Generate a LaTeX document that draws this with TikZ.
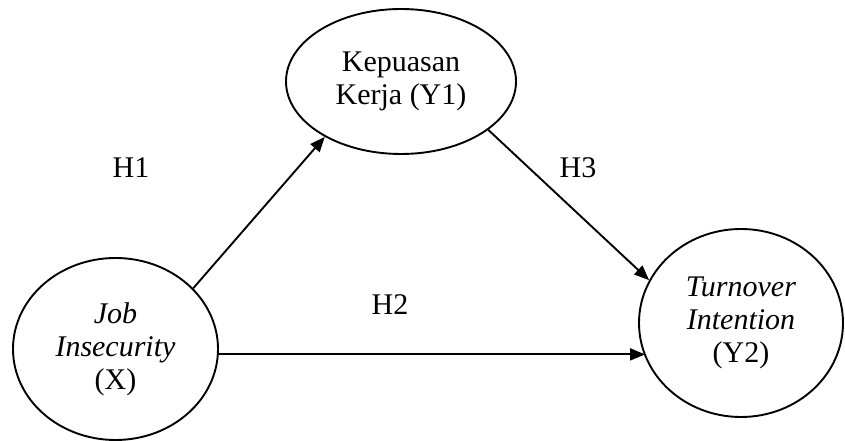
\documentclass[tikz,border=0pt]{standalone}
\usepackage{fontspec}
\setmainfont{Liberation Serif}
\usetikzlibrary{shapes.geometric,arrows.meta}
\begin{document}
\begin{tikzpicture}[x=1pt,y=1pt,
  var/.style={draw,ellipse,line width=1.9pt,inner sep=0pt,align=center,font=\fontsize{30}{33}\selectfont},
  conn/.style={line width=1.9pt,-{Triangle[length=15pt,width=12pt]}},
  hyp/.style={font=\fontsize{30}{33}\selectfont,inner sep=0pt}]
\useasboundingbox (0,0) rectangle (845,441);
\node[var,minimum width=230pt,minimum height=145pt] (Y1) at (401,359.5) {Kepuasan\\Kerja (Y1)};
\node[var,minimum width=205pt,minimum height=182pt] (X) at (115.5,92) {\textit{Job}\\\textit{Insecurity}\\(X)};
\node[var,minimum width=204pt,minimum height=188pt] (Y2) at (741,118) {\textit{Turnover}\\\textit{Intention}\\(Y2)};
\coordinate (hs) at (X.-3.9);
\coordinate (he) at ([xshift=7pt]hs -| Y2.west);
\draw[conn] (X.38.4) -- (Y1.216);
\draw[conn] (Y1.-29.5) -- (Y2.155.6);
\draw[conn] (hs) -- (he);
\node[hyp] (h1) at (131,273) {H1};
\node[hyp] (h3) at (578,273) {H3};
\node[hyp] (h2) at (390,136) {H2};
\end{tikzpicture}
\end{document}
